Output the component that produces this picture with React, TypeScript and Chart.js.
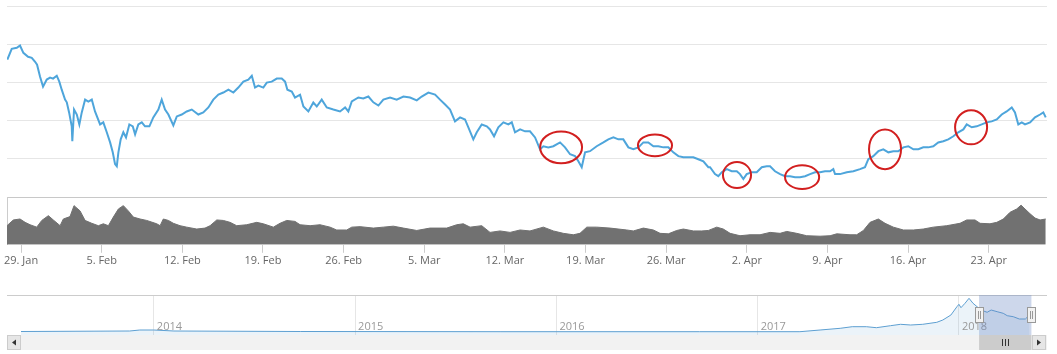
import React, { useEffect, useRef } from 'react';
import { Chart, registerables } from 'chart.js';
Chart.register(...registerables);

// ---- main chart x ticks (days since 29 Jan) ----
const tickDays = [0, 7, 14, 21, 28, 35, 42, 49, 56, 63, 70, 77, 84];
const tickLabels = ['29. Jan', '5. Feb', '12. Feb', '19. Feb', '26. Feb', '5. Mar', '12. Mar', '19. Mar', '26. Mar', '2. Apr', '9. Apr', '16. Apr', '23. Apr'];

// ---- price series ----
const priceDays = [
  -1.19, -0.81, -0.37, -0.09, 0.20, 0.61, 0.93, 1.22, 1.39, 1.65, 1.91, 2.23, 2.52, 2.78, 3.10, 3.32, 3.53, 3.82, 3.97, 4.17,
  4.40, 4.45, 4.60, 4.84, 5.06, 5.27, 5.56, 5.84, 6.14, 6.42, 6.86, 7.14, 7.44, 7.73, 7.96, 8.16, 8.31, 8.45, 8.65, 8.88,
  9.11, 9.40, 9.70, 9.90, 10.18, 10.48, 10.76, 11.14, 11.48, 11.92, 12.21, 12.50, 12.79, 13.22, 13.52, 13.95, 14.38, 14.82, 15.39, 15.82,
  16.26, 16.69, 17.13, 17.56, 18.00, 18.43, 18.86, 19.30, 19.73, 20.03, 20.31, 20.60, 21.03, 21.33, 21.76, 22.20, 22.63, 22.92, 23.12, 23.50,
  23.78, 24.22, 24.51, 24.94, 25.37, 25.67, 26.10, 26.54, 27.11, 27.69, 28.13, 28.41, 28.71, 29.28, 29.71, 30.15, 30.58, 31.02, 31.45, 32.03,
  32.61, 33.19, 33.77, 34.35, 34.78, 35.36, 35.94, 36.37, 36.81, 37.24, 37.67, 38.11, 38.54, 38.83, 39.26, 39.56, 39.99, 40.43, 40.71, 41.06,
  41.43, 41.87, 42.30, 42.60, 42.88, 43.32, 43.75, 44.18, 44.62, 45.05, 45.34, 45.77, 46.21, 46.79, 47.22, 47.66, 48.09, 48.38, 48.67, 48.96,
  49.39, 49.97, 50.55, 50.98, 51.42, 51.85, 52.28, 52.72, 53.15, 53.59, 54.02, 54.45, 54.89, 55.32, 55.76, 56.19, 56.62, 57.06, 57.49, 57.93,
  58.36, 58.79, 59.23, 59.66, 59.81, 60.24, 60.53, 60.83, 61.26, 61.69, 62.13, 62.41, 62.70, 62.99, 63.43, 63.86, 64.30, 64.73, 65.02, 65.45,
  65.89, 66.32, 66.75, 67.19, 67.62, 68.06, 68.49, 68.92, 69.36, 69.79, 70.23, 70.51, 70.66, 71.09, 71.68, 72.25, 72.83, 73.26, 73.55, 73.98,
  74.42, 74.85, 75.29, 75.72, 76.15, 76.59, 77.02, 77.46, 77.89, 78.32, 78.76, 79.19, 79.62, 80.06, 80.49, 80.93, 81.36, 81.80, 82.09, 82.53,
  82.96, 83.39, 83.83, 84.26, 84.70, 85.13, 85.56, 86.00, 86.28, 86.57, 86.87, 87.15, 87.59, 88.02, 88.46, 88.74, 88.95
];
const priceValues = [
  1119, 1176, 1181, 1193, 1155, 1134, 1129, 1108, 1093, 1030, 978, 1015, 1025, 1020, 1035, 1004, 962, 910, 896, 843,
  770, 692, 858, 832, 780, 843, 910, 900, 910, 848, 780, 791, 739, 686, 634, 572, 561, 634, 702, 739,
  712, 780, 770, 728, 780, 791, 770, 770, 817, 858, 910, 858, 832, 775, 822, 832, 848, 858, 832, 843,
  869, 910, 936, 947, 962, 947, 973, 1004, 1015, 1035, 973, 983, 973, 999, 1004, 1020, 1020, 1004, 962, 952,
  921, 936, 874, 848, 895, 874, 910, 869, 858, 848, 869, 848, 900, 921, 916, 926, 896, 879, 910, 921,
  910, 926, 921, 906, 926, 947, 936, 910, 884, 858, 796, 817, 806, 765, 702, 739, 780, 770, 754, 718,
  765, 791, 780, 791, 739, 754, 744, 744, 712, 650, 666, 660, 666, 686, 660, 624, 614, 587, 556, 634,
  640, 666, 686, 702, 712, 702, 702, 660, 650, 660, 686, 686, 666, 666, 660, 660, 634, 614, 608, 608,
  608, 598, 587, 556, 556, 520, 509, 530, 546, 535, 535, 520, 494, 520, 530, 530, 556, 561, 561, 535,
  520, 509, 509, 504, 504, 509, 520, 530, 530, 535, 535, 546, 520, 520, 530, 535, 546, 556, 598, 614,
  640, 650, 634, 640, 640, 660, 666, 650, 650, 660, 660, 666, 686, 692, 702, 718, 739, 754, 780, 765,
  770, 780, 791, 796, 806, 832, 848, 869, 843, 780, 791, 780, 791, 817, 832, 843, 817
];

// ---- volume series ----
const volumeDays = [
  -1.22, -0.67, -0.09, 0.35, 0.78, 1.36, 1.80, 2.37, 2.80, 3.39, 3.67, 4.25, 4.60, 5.12, 5.56, 6.14, 6.71, 7.14, 7.58, 8.01,
  8.45, 8.88, 9.31, 9.75, 10.33, 10.91, 11.78, 12.07, 12.35, 12.79, 13.22, 13.80, 14.38, 15.25, 15.97, 16.41, 16.99, 17.56, 18.14, 18.72,
  19.59, 20.46, 21.03, 21.90, 22.48, 23.06, 23.78, 24.22, 25.09, 25.95, 26.82, 27.40, 28.27, 28.71, 29.43, 30.58, 31.45, 32.32, 33.19, 34.35,
  35.50, 36.95, 37.82, 38.39, 38.98, 39.99, 40.71, 41.58, 42.45, 43.32, 44.18, 45.34, 46.21, 47.07, 47.94, 48.52, 49.11, 49.97, 51.13, 52.58,
  53.15, 54.02, 54.89, 55.47, 56.19, 56.92, 57.49, 58.36, 59.09, 59.66, 60.39, 60.96, 61.55, 62.41, 63.28, 64.15, 65.02, 65.89, 66.47, 67.33,
  68.20, 69.36, 70.23, 70.81, 71.96, 72.54, 73.12, 73.70, 74.42, 75.00, 75.72, 76.59, 77.46, 78.32, 79.19, 80.36, 81.51, 82.09, 82.81, 83.25,
  84.11, 84.70, 85.27, 85.85, 86.43, 86.81, 87.15, 87.59, 88.02, 88.46, 88.95
];
const volumeValues = [
  40, 52, 54, 47, 42, 37, 51, 61, 52, 40, 54, 59, 82, 71, 51, 45, 40, 44, 40, 58,
  75, 82, 71, 58, 54, 51, 44, 40, 54, 51, 45, 40, 37, 33, 35, 40, 52, 51, 47, 40,
  42, 47, 44, 37, 45, 51, 49, 42, 40, 42, 37, 31, 31, 37, 38, 35, 37, 39, 35, 30,
  35, 35, 42, 44, 37, 40, 26, 29, 26, 31, 29, 37, 29, 24, 21, 24, 37, 37, 35, 31,
  29, 35, 31, 24, 23, 30, 33, 29, 29, 30, 37, 33, 24, 19, 21, 21, 26, 24, 28, 24,
  19, 18, 19, 23, 21, 21, 30, 47, 54, 45, 37, 31, 31, 33, 37, 40, 45, 52, 52, 45,
  44, 47, 54, 68, 75, 83, 75, 65, 56, 52, 54
];

// ---- navigator (full history, x in years) ----
const navYears = [
  2013.34, 2013.88, 2013.93, 2014.00, 2014.10, 2014.73, 2015.72, 2016.71, 2017.21, 2017.31, 2017.41, 2017.47, 2017.54, 2017.59, 2017.66, 2017.71,
  2017.76, 2017.82, 2017.89, 2017.92, 2017.96, 2017.99, 2018.00, 2018.01, 2018.03, 2018.05, 2018.07, 2018.09, 2018.11, 2018.14, 2018.16, 2018.19,
  2018.22, 2018.24, 2018.27, 2018.30, 2018.33, 2018.35
];
const navValues = [
  140, 160, 200, 200, 160, 140, 132, 132, 132, 200, 268, 332, 332, 292, 372, 428,
  400, 428, 508, 600, 800, 1132, 1228, 1092, 1268, 1468, 1268, 1132, 1000, 908, 1000, 932,
  868, 772, 732, 640, 640, 800
];
const yearTicks = [2014, 2015, 2016, 2017, 2018];
const yearLabels = ['2014', '2015', '2016', '2017', '2018'];
const navSelection = [2018.10, 2018.36];

// ---- hand-drawn red marks (centre day / value, radius in days / value) ----
const markDays = [46.88, 55.03, 62.15, 67.80, 75.0, 82.47];
const markValues = [660, 671, 515, 504, 650, 765];
const markRadiusDays = [1.82, 1.48, 1.22, 1.48, 1.39, 1.39];
const markRadiusValues = [83, 57, 68, 62, 104, 89];

const FONT = "'Open Sans', 'DejaVu Sans', sans-serif";

const markPlugin = {
  id: 'marks',
  afterDatasetsDraw(chart: any) {
    const { ctx } = chart;
    const x = chart.scales.x;
    const y = chart.scales.y;
    ctx.save();
    ctx.strokeStyle = '#d21f1f';
    ctx.lineWidth = 2;
    markDays.forEach((d, i) => {
      const cx = x.getPixelForValue(d);
      const cy = y.getPixelForValue(markValues[i]);
      const rx = Math.abs(x.getPixelForValue(d + markRadiusDays[i]) - cx);
      const ry = Math.abs(y.getPixelForValue(markValues[i] + markRadiusValues[i]) - cy);
      ctx.beginPath();
      ctx.ellipse(cx, cy, rx, ry, 0, 0, Math.PI * 2);
      ctx.stroke();
    });
    ctx.restore();
  },
};

const navPlugin = {
  id: 'navDecor',
  afterDraw(chart: any) {
    const { ctx, chartArea: ca } = chart;
    const xs = chart.scales.x;
    ctx.save();
    // year labels
    ctx.font = `11px ${FONT}`;
    ctx.fillStyle = '#999999';
    ctx.textBaseline = 'middle';
    ctx.textAlign = 'left';
    yearTicks.forEach((t, i) => {
      ctx.fillText(yearLabels[i], xs.getPixelForValue(t) + 3, ca.bottom - 8);
    });
    const left = ca.left - 14;
    const right = ca.right + 16;
    // outline
    ctx.strokeStyle = '#cccccc';
    ctx.lineWidth = 1;
    ctx.beginPath();
    ctx.moveTo(left, ca.top + 0.5);
    ctx.lineTo(right, ca.top + 0.5);
    ctx.stroke();
    // selection mask
    const x0 = xs.getPixelForValue(navSelection[0]);
    const x1 = xs.getPixelForValue(navSelection[1]);
    ctx.fillStyle = 'rgba(102,133,194,0.33)';
    ctx.fillRect(x0, ca.top, x1 - x0, ca.bottom - ca.top);
    // scrollbar
    const sy = ca.bottom;
    const sh = 15;
    ctx.fillStyle = '#f2f2f2';
    ctx.fillRect(left, sy, right - left, sh);
    ctx.fillStyle = '#cccccc';
    ctx.fillRect(x0, sy, x1 - x0, sh);
    // grip
    ctx.strokeStyle = '#333333';
    const gc = Math.round((x0 + x1) / 2);
    [-3, 0, 3].forEach((o) => {
      ctx.beginPath();
      ctx.moveTo(gc + o + 0.5, sy + 4);
      ctx.lineTo(gc + o + 0.5, sy + 11);
      ctx.stroke();
    });
    // buttons
    const drawBtn = (bx: number, dir: number) => {
      ctx.fillStyle = '#e6e6e6';
      ctx.fillRect(bx, sy, 14, sh);
      ctx.strokeStyle = '#cccccc';
      ctx.strokeRect(bx + 0.5, sy + 0.5, 13, sh - 1);
      ctx.fillStyle = '#333333';
      ctx.beginPath();
      const cx = bx + 7;
      const cy = sy + sh / 2;
      ctx.moveTo(cx + 2 * dir, cy - 3);
      ctx.lineTo(cx - 2 * dir, cy);
      ctx.lineTo(cx + 2 * dir, cy + 3);
      ctx.closePath();
      ctx.fill();
    };
    drawBtn(left, 1);
    drawBtn(right - 15, -1);
    // handles
    const my = (ca.top + ca.bottom) / 2;
    [x0, x1].forEach((hx) => {
      const rx = Math.round(hx) - 4;
      ctx.fillStyle = '#f2f2f2';
      ctx.fillRect(rx, my - 7.5, 8, 15);
      ctx.strokeStyle = '#999999';
      ctx.strokeRect(rx + 0.5, my - 7.5, 8, 15);
      ctx.beginPath();
      ctx.moveTo(rx + 3.5, my - 4);
      ctx.lineTo(rx + 3.5, my + 4);
      ctx.moveTo(rx + 5.5, my - 4);
      ctx.lineTo(rx + 5.5, my + 4);
      ctx.stroke();
    });
    ctx.restore();
  },
};

export default function App() {
  const mainRef = useRef<HTMLCanvasElement>(null);
  const navRef = useRef<HTMLCanvasElement>(null);

  useEffect(() => {
    document.body.style.margin = '0';
    const main = new Chart(mainRef.current as HTMLCanvasElement, {
      type: 'line',
      data: {
        datasets: [
          {
            label: 'Price',
            data: priceDays.map((d, i) => ({ x: d, y: priceValues[i] })),
            borderColor: '#4ea5db',
            borderWidth: 2,
            pointRadius: 0,
            tension: 0,
            yAxisID: 'y',
            fill: false,
          },
          {
            label: 'Volume',
            data: volumeDays.map((d, i) => ({ x: d, y: volumeValues[i] })),
            borderColor: '#717171',
            backgroundColor: '#717171',
            borderWidth: 1,
            pointRadius: 0,
            tension: 0,
            yAxisID: 'yv',
            fill: 'origin',
          },
        ],
      },
      options: {
        responsive: false,
        animation: false,
        devicePixelRatio: 1,
        layout: { padding: { left: 7, right: 10, top: 6, bottom: 0 } },
        plugins: { legend: { display: false }, tooltip: { enabled: false } },
        scales: {
          x: {
            type: 'linear',
            min: -1.22,
            max: 89.06,
            afterBuildTicks: (scale: any) => {
              scale.ticks = tickDays.map((v) => ({ value: v }));
            },
            grid: { display: true, drawOnChartArea: false, drawTicks: true, tickLength: 8, color: '#cccccc' },
            border: { display: false },
            ticks: {
              autoSkip: false,
              maxRotation: 0,
              padding: 1,
              color: '#666666',
              font: { family: FONT, size: 11 },
              callback: (_v: any, i: number) => tickLabels[i],
            },
          },
          yv: {
            type: 'linear',
            position: 'left',
            stack: 'panes',
            stackWeight: 1,
            min: 0,
            max: 100,
            ticks: { display: false },
            grid: { display: false, drawTicks: false },
            border: { display: true, color: '#cccccc' },
          },
          y: {
            type: 'linear',
            position: 'left',
            stack: 'panes',
            stackWeight: 4,
            min: 400,
            max: 1400,
            ticks: { display: false, stepSize: 200 },
            grid: {
              drawTicks: false,
              color: (ctx: any) => (ctx.tick && ctx.tick.value === 400 ? '#c8c8c8' : '#e6e6e6'),
            },
            border: { display: false },
          },
        },
      },
      plugins: [markPlugin],
    } as any);

    const nav = new Chart(navRef.current as HTMLCanvasElement, {
      type: 'line',
      data: {
        datasets: [
          {
            label: 'Navigator',
            data: navYears.map((d, i) => ({ x: d, y: navValues[i] })),
            borderColor: '#5d9fd1',
            backgroundColor: 'rgba(93,159,209,0.12)',
            borderWidth: 1,
            pointRadius: 0,
            tension: 0,
            fill: 'origin',
          },
        ],
      },
      options: {
        responsive: false,
        animation: false,
        devicePixelRatio: 1,
        layout: { padding: { left: 21, right: 26, top: 10, bottom: 19 } },
        plugins: { legend: { display: false }, tooltip: { enabled: false } },
        scales: {
          x: {
            type: 'linear',
            min: 2013.34,
            max: 2018.358,
            afterBuildTicks: (scale: any) => {
              scale.ticks = yearTicks.map((v) => ({ value: v }));
            },
            ticks: { display: false },
            grid: { drawTicks: false, color: '#e6e6e6' },
            border: { display: false },
          },
          y: { display: false, min: 0, max: 1600 },
        },
      },
      plugins: [navPlugin],
    } as any);

    return () => {
      main.destroy();
      nav.destroy();
    };
  }, []);

  return (
    <div style={{ position: 'relative', width: 1057, height: 354, background: '#ffffff' }}>
      <canvas ref={mainRef} width={1057} height={268} style={{ position: 'absolute', left: 0, top: 0 }} />
      <canvas ref={navRef} width={1057} height={69} style={{ position: 'absolute', left: 0, top: 285 }} />
    </div>
  );
}
